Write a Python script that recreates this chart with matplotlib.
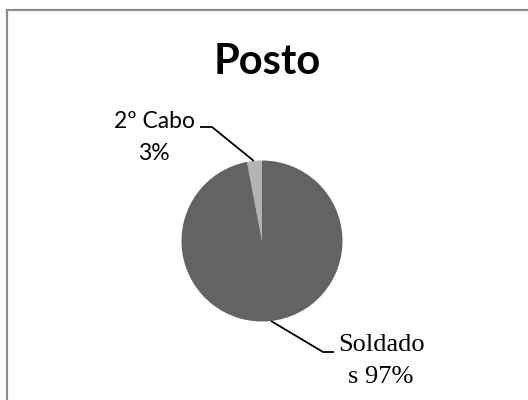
import numpy as np
import matplotlib.pyplot as plt
from matplotlib.lines import Line2D

names = ['2º Cabo', 'Soldados']
values = [3, 97]
colors = ['#b3b3b3', '#636363']

W, H = 528, 400
fig = plt.figure(figsize=(W / 100, H / 100), dpi=100)
fig.patch.set_facecolor('white')

# axes in pixel units, y up
ax = fig.add_axes([0, 0, 1, 1])

cx, cy, r = 262, H - 241, 80.5
wedges, _ = ax.pie(values, colors=colors, startangle=90, counterclock=True,
                   center=(cx, cy), radius=r, frame=True,
                   wedgeprops=dict(linewidth=0))
ax.set_xlim(0, W)
ax.set_ylim(0, H)
ax.set_aspect('equal')
ax.axis('off')

# chart frame (left and top edges visible)
fig.add_artist(Line2D([7 / W, 7 / W], [0, 1 - 10 / H], transform=fig.transFigure,
                      color='#8c8c8c', lw=1.6))
fig.add_artist(Line2D([7 / W, 1], [1 - 10 / H, 1 - 10 / H], transform=fig.transFigure,
                      color='#8c8c8c', lw=1.6))

fig.text(267 / W, 1 - 62 / H, 'Posto', ha='center', va='center',
         fontsize=30, fontweight='bold', family='Lato')


def edge_point(w, frac):
    ang = np.deg2rad(w.theta1 + (w.theta2 - w.theta1) * frac)
    return cx + r * np.cos(ang), cy + r * np.sin(ang)


# 2º Cabo label
px, py = edge_point(wedges[0], 0.54)
ax.plot([px, 212, 200], [py, H - 127, H - 127], color='black', lw=1.3,
        solid_capstyle='butt')
ax.text(154, H - 121, names[0], ha='center', va='center',
        fontsize=16.5, family='Lato')
ax.text(154, H - 154, f'{values[0]}%', ha='center', va='center',
        fontsize=16.5, family='Lato')

# Soldados label
sx, sy = edge_point(wedges[1], 0.503)
ax.plot([sx, 323, 334], [sy, H - 352, H - 352], color='black', lw=1.3,
        solid_capstyle='butt')
ax.text(382, H - 345, names[1][:-1], ha='center', va='center',
        fontsize=19, family='Liberation Serif')
ax.text(381, H - 377, f'{names[1][-1]} {values[1]}%', ha='center', va='center',
        fontsize=19, family='Liberation Serif')

fig.savefig('out.png', dpi=100, facecolor='white')
